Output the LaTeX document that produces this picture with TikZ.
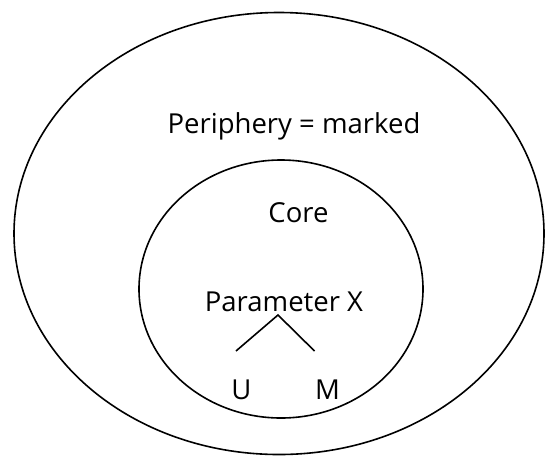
\documentclass[tikz,border=0pt]{standalone}
\usepackage{fontspec}
\setmainfont{Open Sans}
\begin{document}
\begin{tikzpicture}[x=1pt,y=-1pt,
  ring/.style={draw=black,line width=1.6pt},
  label/.style={anchor=base,inner sep=0pt,font=\fontsize{27.5}{32}\selectfont},
  branch/.style={draw=black,line width=1.6pt}]
\useasboundingbox (0,0) rectangle (545,456);
\fill[white] (0,0) rectangle (545,456);
% outer ring (periphery) and inner ring (core)
\draw[ring] (279,233.5) ellipse [x radius=265, y radius=221];
\draw[ring] (281,289) ellipse [x radius=142, y radius=129];
% labels
\node[label] (periph) at (294,133.8) {Periphery = marked};
\node[label] (core) at (298.5,222.5) {Core};
\node[label] (param) at (284,311) {Parameter X};
\node[label] (u) at (241.5,399.7) {U};
\node[label] (m) at (327.5,399.7) {M};
% branching below the parameter
\coordinate (apex) at (278,315);
\coordinate (lend) at (236,351);
\coordinate (rend) at (314.5,351);
\draw[branch] (lend) -- (apex) -- (rend);
\end{tikzpicture}
\end{document}
